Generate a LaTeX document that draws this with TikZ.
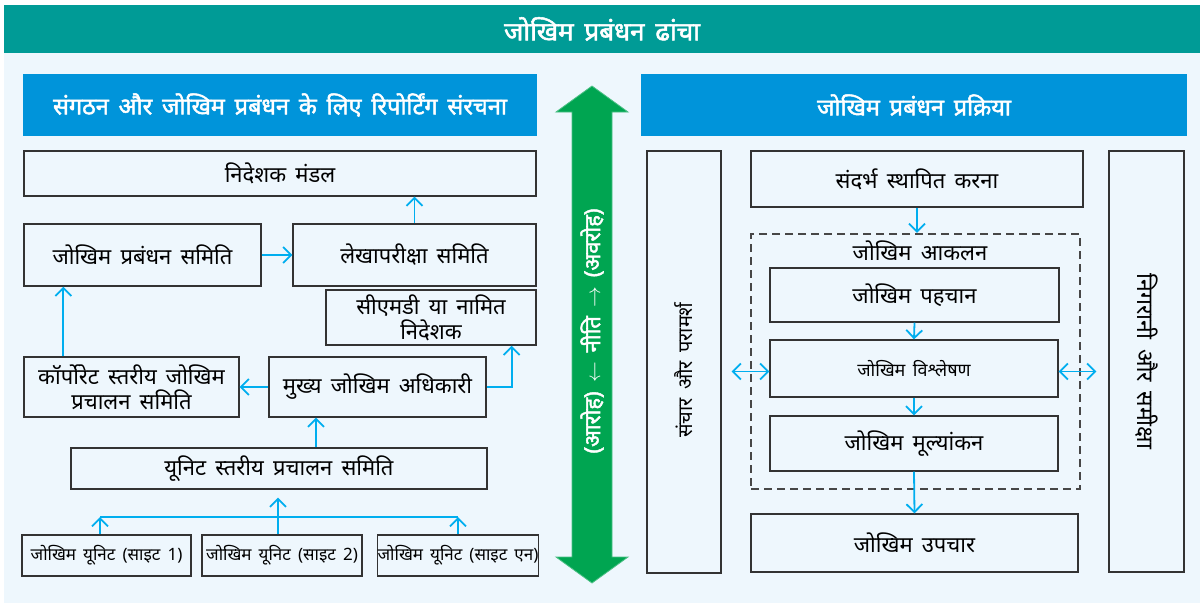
\documentclass[tikz,border=0pt]{standalone}
\usepackage{fontspec}
\setmainfont[Script=Devanagari, WordSpace=1.6, BoldFont={Noto Sans}, BoldFeatures={FakeBold=2}]{Noto Sans}
\usetikzlibrary{arrows.meta}
\definecolor{panelbg}{HTML}{EEF7FD}
\definecolor{headteal}{HTML}{009B96}
\definecolor{barblue}{HTML}{0094DA}
\definecolor{flowcyan}{HTML}{00AEEF}
\definecolor{policygreen}{HTML}{00A551}
\definecolor{boxline}{HTML}{333333}
\begin{document}
\begin{tikzpicture}[x=1pt,y=-1pt,
    box/.style={draw=boxline, line width=1.3pt, inner sep=2pt, align=center,
      font=\fontsize{22}{25}\selectfont},
    sitebox/.style={box, minimum height=41, inner sep=0pt, font=\fontsize{17}{20}\selectfont},
    bar/.style={fill=barblue, text=white, font=\bfseries\fontsize{23.5}{26}\selectfont},
    flow/.style={->, draw=flowcyan, line width=1.8pt},
    >={Straight Barb[length=8pt,width=16pt]}]
\useasboundingbox (0,0) rectangle (1203,606);
% background and headers
\fill[panelbg] (4,53) rectangle (1200,603);
\node[fill=headteal, minimum width=1196, minimum height=48, text=white,
  font=\bfseries\fontsize{26}{28}\selectfont] (title) at (602,29) {जोखिम प्रबंधन ढांचा};
\node[bar, minimum width=514, minimum height=62] (lefthead) at (280,105) {संगठन और जोखिम प्रबंधन के लिए रिपोर्टिंग संरचना};
\node[bar, minimum width=546, minimum height=62] (righthead) at (914,105) {जोखिम प्रबंधन प्रक्रिया};

% reporting structure
\node[box, minimum width=512, minimum height=45] (board) at (280,173.5) {निदेशक मंडल};
\node[box, minimum width=237, minimum height=62] (rmc) at (142.5,255) {जोखिम प्रबंधन समिति};
\node[box, minimum width=243, minimum height=62] (audit) at (414.5,255) {लेखापरीक्षा समिति};
\node[box, minimum width=210, minimum height=55, inner sep=0pt] (cmd) at (431,317.5) {सीएमडी या नामित\\निदेशक};
\node[box, minimum width=215, minimum height=60, inner sep=0pt] (corp) at (131.5,387) {कॉर्पोरेट स्तरीय जोखिम\\प्रचालन समिति};
\node[box, minimum width=217, minimum height=60] (cro) at (377.5,387) {मुख्य जोखिम अधिकारी};
\node[box, minimum width=416, minimum height=41] (unitlvl) at (279,468.5) {यूनिट स्तरीय प्रचालन समिति};
\node[sitebox, minimum width=169] (site1) at (106.5,555.5) {जोखिम यूनिट (साइट 1)};
\node[sitebox, minimum width=160] (site2) at (282,555.5) {जोखिम यूनिट (साइट 2)};
\node[sitebox, minimum width=160] (siten) at (458,555.5) {जोखिम यूनिट (साइट एन)};

\draw[flow] (audit.north) -- (audit.north |- board.south);
\draw[flow] (rmc.east) -- (audit.west);
\draw[flow] ([xshift=40pt]corp.north west) -- ([xshift=40pt]corp.north west |- rmc.south);
\draw[flow] (cro.west) -- (corp.east);
\draw[flow] (cro.east) -| ([xshift=-25pt]cmd.south east);
\draw[flow] ([xshift=37pt]unitlvl.north) -- ([xshift=37pt]unitlvl.north |- cro.south);
\coordinate (busL) at (100,517);
\coordinate (busR) at (458,517);
\draw[flowcyan, line width=1.8pt] (busL) -- (busR);
\draw[flow] ([xshift=-6.5pt]site1.north) -- (busL);
\draw[flow] (siten.north) -- (busR);
\draw[flow, shorten >=8pt] ([xshift=-4pt]site2.north) -- ([xshift=-4pt]site2.north |- unitlvl.south);

% policy arrow
\fill[policygreen, draw=policygreen!70!white, line width=0.8pt]
  (592,86) -- (628,112) -- (612,112) -- (612,557) -- (628,557) -- (592,583)
  -- (556,557) -- (572,557) -- (572,112) -- (556,112) -- cycle;
\node[rotate=90, text=white, font=\bfseries\fontsize{22}{25}\selectfont] (policy) at (592,331)
  {(आरोह) $\leftarrow$ नीति $\rightarrow$ (अवरोह)};

% risk management process
\node[box, minimum width=74, minimum height=422] (comm) at (684,362) {};
\node[rotate=90, font=\fontsize{20}{23}\selectfont] (commtext) at ([yshift=-8pt]comm.center) {संचार और परामर्श};
\node[box, minimum width=75, minimum height=421] (monitor) at (1146.5,361.5) {};
\node[rotate=-90, font=\fontsize{23}{26}\selectfont] (montext) at (monitor.center) {निगरानी और समीक्षा};
\node[box, minimum width=332, minimum height=56] (ctx) at (917,179) {संदर्भ स्थापित करना};
\node[draw=boxline!90!white, line width=2.4pt, dash pattern=on 8pt off 5pt,
  minimum width=329, minimum height=255] (assess) at (915.5,361.5) {};
\node[font=\fontsize{22}{25}\selectfont] (assesslabel) at (920,251) {जोखिम आकलन};
\node[box, minimum width=289, minimum height=54] (ident) at (914.5,295) {जोखिम पहचान};
\node[box, minimum width=288, minimum height=57, font=\fontsize{18}{21}\selectfont] (anal) at (914,368.5) {जोखिम विश्लेषण};
\node[box, minimum width=288, minimum height=55] (eval) at (914,443.5) {जोखिम मूल्यांकन};
\node[box, minimum width=327, minimum height=58] (treat) at (914.5,543) {जोखिम उपचार};

\draw[flow] (ctx.south) -- (ctx.south |- assess.north);
\draw[flow] (ident.south) -- (anal.north);
\draw[flow] (anal.south) -- (eval.north);
\draw[flow] (eval.south) -- (treat.north);
\draw[flow, <->] ([xshift=10pt,yshift=-3pt]comm.east |- anal.west) -- ([yshift=-3pt]anal.west);
\draw[flow, <->] ([yshift=-3pt]anal.east) -- ([xshift=-12pt,yshift=-3pt]monitor.west |- anal.east);
\end{tikzpicture}
\end{document}
